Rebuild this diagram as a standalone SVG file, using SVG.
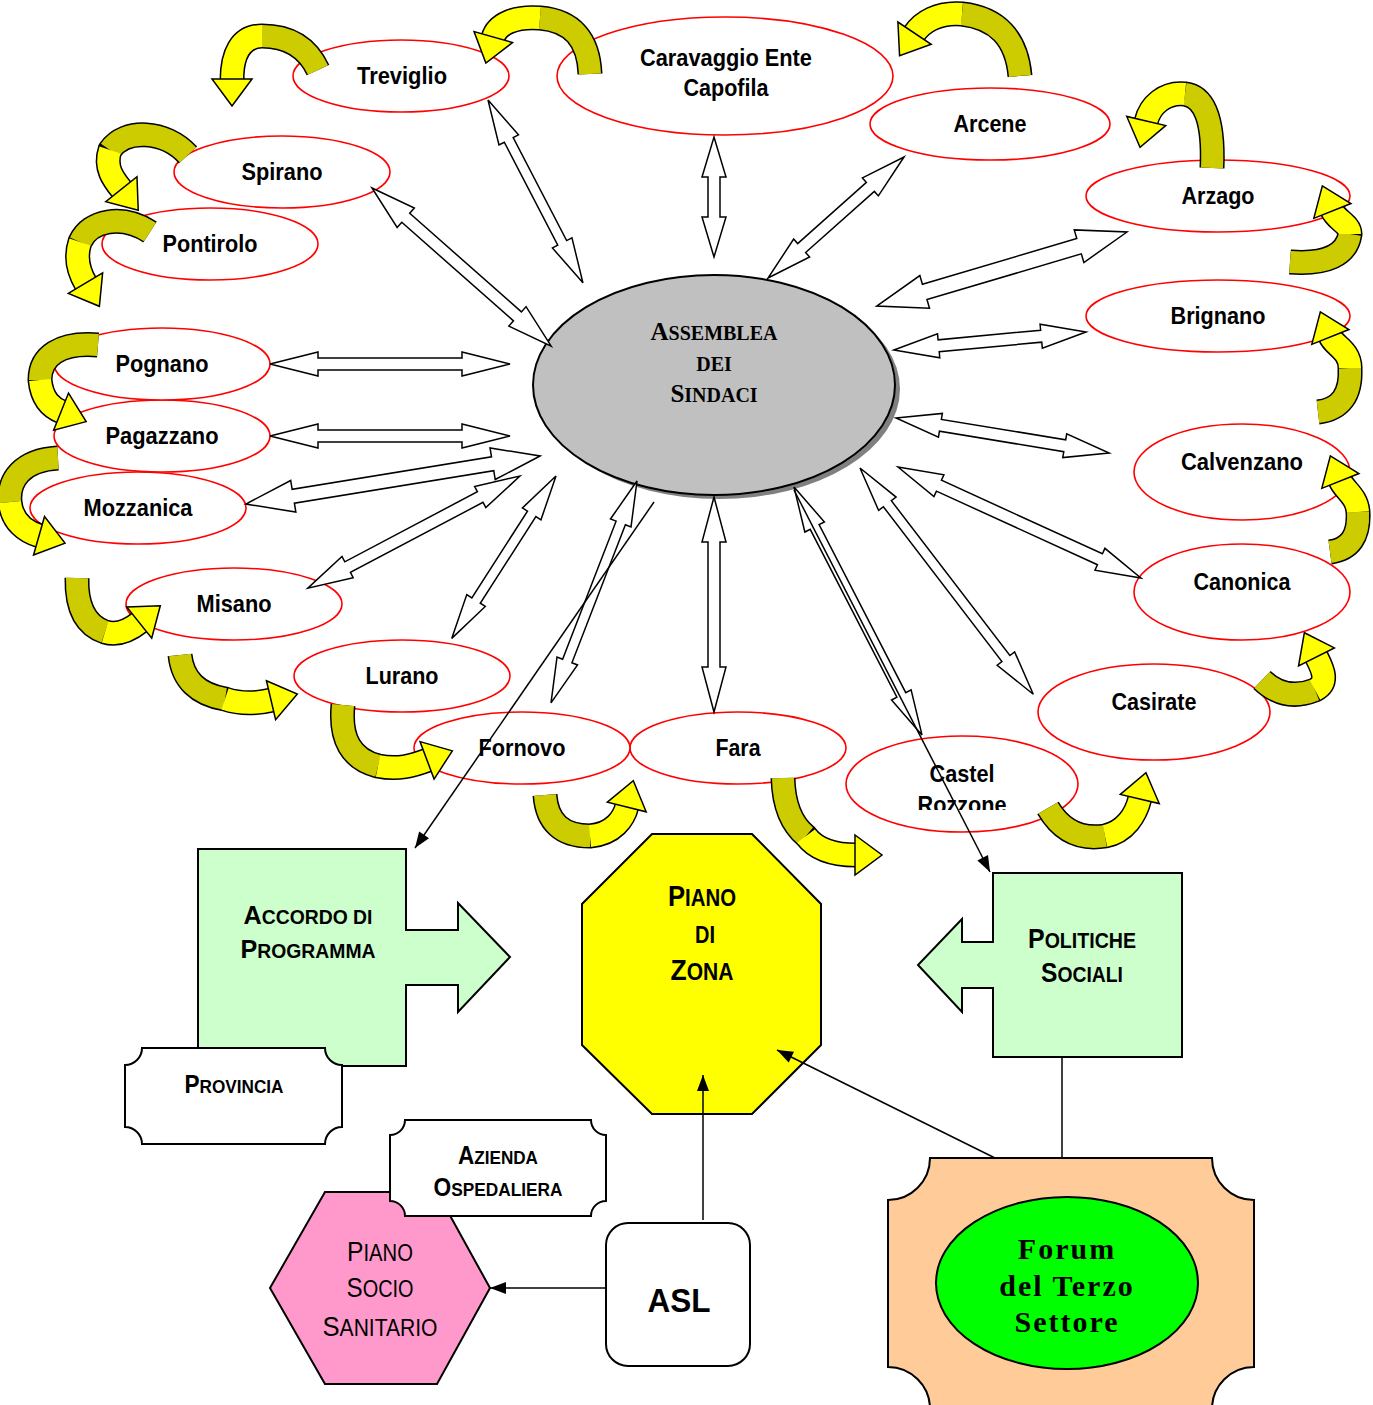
<svg xmlns="http://www.w3.org/2000/svg" width="1373" height="1405" viewBox="0 0 1373 1405">
<style>
.town ellipse{fill:#fff;stroke:#f00;stroke-width:1.6}
.tl{font-family:"Liberation Sans Narrow","Arial Narrow","Liberation Sans",sans-serif;font-weight:bold;font-size:24px;text-anchor:middle;fill:#000}
.sc{font-family:"Liberation Sans Narrow","Arial Narrow","Liberation Sans",sans-serif;font-weight:bold;text-anchor:middle;fill:#000}
.scr{font-family:"Liberation Sans Narrow","Arial Narrow","Liberation Sans",sans-serif;text-anchor:middle;fill:#000}
.ser{font-family:"Liberation Serif","Times New Roman",serif;font-weight:bold;text-anchor:middle;fill:#000}
.blk path{fill:#fff;stroke:#000;stroke-width:1.5;stroke-linejoin:miter}
.thin{fill:none;stroke:#000;stroke-width:1.5;marker-end:url(#ah)}
.plain{fill:none;stroke:#000;stroke-width:1.5}
.curl .o{fill:none;stroke:#000;stroke-width:25}
.curl .ol{fill:none;stroke:#CCCC00;stroke-width:22}
.curl .ye{fill:none;stroke:#FFFF00;stroke-width:22;marker-end:url(#yh)}
.shape{stroke:#000;stroke-width:2}
</style>
<defs>
<marker id="ah" markerUnits="userSpaceOnUse" markerWidth="20" markerHeight="20" refX="0" refY="0" orient="auto" overflow="visible">
<path d="M-16,-6 L0,0 L-16,6 Z" fill="#000"/>
</marker>
<marker id="yh" markerUnits="userSpaceOnUse" markerWidth="40" markerHeight="50" refX="0" refY="0" orient="auto" overflow="visible">
<path d="M-1,-20 L26,0 L-1,20 Z" fill="#FFFF00" stroke="#000" stroke-width="1.5"/>
</marker>
<clipPath id="clipRoz"><rect x="840" y="730" width="250" height="80"/></clipPath>
</defs>

<!-- town nodes -->
<g id="n-treviglio" class="town"><ellipse cx="401" cy="76" rx="108" ry="36"/><text class="tl" x="402" y="84" textLength="90" lengthAdjust="spacingAndGlyphs">Treviglio</text></g>
<g id="n-caravaggio" class="town"><ellipse cx="725" cy="76" rx="168" ry="59"/><text class="tl" x="726" y="66" textLength="172" lengthAdjust="spacingAndGlyphs">Caravaggio Ente</text><text class="tl" x="726" y="96" textLength="85" lengthAdjust="spacingAndGlyphs">Capofila</text></g>
<g id="n-arcene" class="town"><ellipse cx="990" cy="124" rx="120" ry="36"/><text class="tl" x="990" y="132" textLength="73" lengthAdjust="spacingAndGlyphs">Arcene</text></g>
<g id="n-arzago" class="town"><ellipse cx="1218" cy="196" rx="132" ry="36"/><text class="tl" x="1218" y="204" textLength="73" lengthAdjust="spacingAndGlyphs">Arzago</text></g>
<g id="n-brignano" class="town"><ellipse cx="1218" cy="316" rx="132" ry="36"/><text class="tl" x="1218" y="324" textLength="95" lengthAdjust="spacingAndGlyphs">Brignano</text></g>
<g id="n-calvenzano" class="town"><ellipse cx="1242" cy="472" rx="108" ry="48"/><text class="tl" x="1242" y="470" textLength="122" lengthAdjust="spacingAndGlyphs">Calvenzano</text></g>
<g id="n-canonica" class="town"><ellipse cx="1242" cy="592" rx="108" ry="48"/><text class="tl" x="1242" y="590" textLength="97" lengthAdjust="spacingAndGlyphs">Canonica</text></g>
<g id="n-casirate" class="town"><ellipse cx="1154" cy="712" rx="116" ry="48"/><text class="tl" x="1154" y="710" textLength="85" lengthAdjust="spacingAndGlyphs">Casirate</text></g>
<g id="n-castel" class="town"><ellipse cx="962" cy="784" rx="116" ry="48"/><text class="tl" x="962" y="782" textLength="65" lengthAdjust="spacingAndGlyphs">Castel</text><text class="tl" x="962" y="813" textLength="89" lengthAdjust="spacingAndGlyphs" clip-path="url(#clipRoz)">Rozzone</text></g>
<g id="n-fara" class="town"><ellipse cx="738" cy="748" rx="108" ry="36"/><text class="tl" x="738" y="756" textLength="45" lengthAdjust="spacingAndGlyphs">Fara</text></g>
<g id="n-fornovo" class="town"><ellipse cx="522" cy="748" rx="108" ry="36"/><text class="tl" x="522" y="756" textLength="87" lengthAdjust="spacingAndGlyphs">Fornovo</text></g>
<g id="n-lurano" class="town"><ellipse cx="402" cy="676" rx="108" ry="36"/><text class="tl" x="402" y="684" textLength="73" lengthAdjust="spacingAndGlyphs">Lurano</text></g>
<g id="n-misano" class="town"><ellipse cx="234" cy="604" rx="108" ry="36"/><text class="tl" x="234" y="612" textLength="75" lengthAdjust="spacingAndGlyphs">Misano</text></g>
<g id="n-mozzanica" class="town"><ellipse cx="138" cy="508" rx="108" ry="36"/><text class="tl" x="138" y="516" textLength="109" lengthAdjust="spacingAndGlyphs">Mozzanica</text></g>
<g id="n-pagazzano" class="town"><ellipse cx="162" cy="436" rx="108" ry="36"/><text class="tl" x="162" y="444" textLength="113" lengthAdjust="spacingAndGlyphs">Pagazzano</text></g>
<g id="n-pognano" class="town"><ellipse cx="162" cy="364" rx="108" ry="36"/><text class="tl" x="162" y="372" textLength="93" lengthAdjust="spacingAndGlyphs">Pognano</text></g>
<g id="n-pontirolo" class="town"><ellipse cx="210" cy="244" rx="108" ry="36"/><text class="tl" x="210" y="252" textLength="95" lengthAdjust="spacingAndGlyphs">Pontirolo</text></g>
<g id="n-spirano" class="town"><ellipse cx="282" cy="172" rx="108" ry="36"/><text class="tl" x="282" y="180" textLength="81" lengthAdjust="spacingAndGlyphs">Spirano</text></g>

<!-- central node -->
<g id="n-assemblea">
<ellipse cx="719" cy="389" rx="181" ry="110" fill="#808080"/>
<ellipse cx="714" cy="385" rx="181" ry="110" fill="#C0C0C0" stroke="#000" stroke-width="2"/>
<text class="ser" x="714" y="340"><tspan font-size="25">A</tspan><tspan font-size="20">SSEMBLEA</tspan></text>
<text class="ser" x="714" y="371" font-size="20">DEI</text>
<text class="ser" x="714" y="402"><tspan font-size="25">S</tspan><tspan font-size="20">INDACI</tspan></text>
</g>

<!-- lower nodes -->
<g id="n-accordo">
<path class="shape" fill="#CCFFCC" d="M198,849 L406,849 L406,930 L458,930 L458,903 L510,957 L458,1012 L458,985 L406,985 L406,1066 L198,1066 Z"/>
<text class="sc" x="308" y="924" textLength="129" lengthAdjust="spacingAndGlyphs"><tspan font-size="26">A</tspan><tspan font-size="20">CCORDO DI</tspan></text>
<text class="sc" x="308" y="958" textLength="135" lengthAdjust="spacingAndGlyphs"><tspan font-size="26">P</tspan><tspan font-size="20">ROGRAMMA</tspan></text>
</g>
<g id="n-provincia">
<path class="shape" fill="#fff" d="M142,1048 L325,1048 A17,17 0 0 0 342,1065 L342,1127 A17,17 0 0 0 325,1144 L142,1144 A17,17 0 0 0 125,1127 L125,1065 A17,17 0 0 0 142,1048 Z"/>
<text class="sc" x="234" y="1093" textLength="99" lengthAdjust="spacingAndGlyphs"><tspan font-size="25">P</tspan><tspan font-size="19">ROVINCIA</tspan></text>
</g>
<g id="n-pianozona">
<path class="shape" fill="#FFFF00" d="M652,834 L752,834 L821,904 L821,1045 L752,1114 L652,1114 L582,1045 L582,904 Z"/>
<text class="sc" x="702" y="906" textLength="68" lengthAdjust="spacingAndGlyphs"><tspan font-size="29">P</tspan><tspan font-size="23">IANO</tspan></text>
<text class="sc" x="705" y="943" font-size="23" textLength="20" lengthAdjust="spacingAndGlyphs">DI</text>
<text class="sc" x="702" y="980" textLength="63" lengthAdjust="spacingAndGlyphs"><tspan font-size="29">Z</tspan><tspan font-size="23">ONA</tspan></text>
</g>
<g id="n-politiche">
<path class="shape" fill="#CCFFCC" d="M993,873 L1182,873 L1182,1057 L993,1057 L993,988 L962,988 L962,1012 L918,965 L962,919 L962,942 L993,942 Z"/>
<text class="sc" x="1082" y="948" textLength="108" lengthAdjust="spacingAndGlyphs"><tspan font-size="28">P</tspan><tspan font-size="22">OLITICHE</tspan></text>
<text class="sc" x="1082" y="982" textLength="82" lengthAdjust="spacingAndGlyphs"><tspan font-size="28">S</tspan><tspan font-size="22">OCIALI</tspan></text>
</g>
<g id="n-pianosocio">
<path class="shape" fill="#FF99CC" d="M270,1288 L325,1192 L437,1192 L490,1288 L437,1384 L325,1384 Z"/>
<text class="scr" x="380" y="1261" textLength="66" lengthAdjust="spacingAndGlyphs"><tspan font-size="28">P</tspan><tspan font-size="23">IANO</tspan></text>
<text class="scr" x="380" y="1297" textLength="67" lengthAdjust="spacingAndGlyphs"><tspan font-size="28">S</tspan><tspan font-size="23">OCIO</tspan></text>
<text class="scr" x="380" y="1336" textLength="115" lengthAdjust="spacingAndGlyphs"><tspan font-size="28">S</tspan><tspan font-size="23">ANITARIO</tspan></text>
</g>
<g id="n-azienda">
<path class="shape" fill="#fff" d="M405,1120 L591,1120 A15,15 0 0 0 606,1135 L606,1201 A15,15 0 0 0 591,1216 L405,1216 A15,15 0 0 0 390,1201 L390,1135 A15,15 0 0 0 405,1120 Z"/>
<text class="sc" x="498" y="1164" textLength="80" lengthAdjust="spacingAndGlyphs"><tspan font-size="25">A</tspan><tspan font-size="19">ZIENDA</tspan></text>
<text class="sc" x="498" y="1196" textLength="129" lengthAdjust="spacingAndGlyphs"><tspan font-size="25">O</tspan><tspan font-size="19">SPEDALIERA</tspan></text>
</g>
<g id="n-asl">
<rect class="shape" x="606" y="1223" width="144" height="143" rx="22" ry="22" fill="#fff"/>
<text x="679" y="1312" font-family="'Liberation Sans',Arial,sans-serif" font-weight="bold" font-size="34" text-anchor="middle" textLength="63" lengthAdjust="spacingAndGlyphs">ASL</text>
</g>
<g id="n-forum">
<path class="shape" fill="#FFCC99" d="M930,1158 L1212,1158 A42,42 0 0 0 1254,1200 L1254,1367 A42,42 0 0 0 1212,1409 L930,1409 A42,42 0 0 0 888,1367 L888,1200 A42,42 0 0 0 930,1158 Z"/>
<ellipse cx="1067" cy="1283" rx="131" ry="86" fill="#00FF00" stroke="#000" stroke-width="2"/>
<text class="ser" x="1067" y="1259" font-size="30" letter-spacing="2">Forum</text>
<text class="ser" x="1067" y="1296" font-size="30" letter-spacing="2">del Terzo</text>
<text class="ser" x="1067" y="1332" font-size="30" letter-spacing="2">Settore</text>
</g>

<!-- connectors -->
<g id="connectors">
<g class="blk">
<path transform="translate(488,100) rotate(62.56)" d="M0,0 L45,-11 L45,-5 L161,-5 L161,-11 L206,0 L161,11 L161,5 L45,5 L45,11 Z"/>
<path transform="translate(372,188) rotate(41.43)" d="M0,0 L45,-13 L45,-6 L194,-6 L194,-13 L239,0 L194,13 L194,6 L45,6 L45,13 Z"/>
<path transform="translate(714,137) rotate(90)" d="M0,0 L40,-12 L40,-6 L80,-6 L80,-12 L120,0 L80,12 L80,6 L40,6 L40,12 Z"/>
<path transform="translate(904,157) rotate(138.34)" d="M0,0 L45,-12 L45,-6 L137,-6 L137,-12 L182,0 L137,12 L137,6 L45,6 L45,12 Z"/>
<path transform="translate(1127,232) rotate(163.51)" d="M0,0 L50,-17 L50,-8 L211,-8 L211,-17 L261,0 L211,17 L211,8 L50,8 L50,17 Z"/>
<path transform="translate(1086,332) rotate(174.64)" d="M0,0 L45,-12 L45,-6 L148,-6 L148,-12 L193,0 L148,12 L148,6 L45,6 L45,12 Z"/>
<path transform="translate(896,418) rotate(9.33)" d="M0,0 L45,-12 L45,-6 L171,-6 L171,-12 L216,0 L171,12 L171,6 L45,6 L45,12 Z"/>
<path transform="translate(898,467) rotate(24.55)" d="M0,0 L45,-12 L45,-6 L222,-6 L222,-12 L267,0 L222,12 L222,6 L45,6 L45,12 Z"/>
<path transform="translate(860,468) rotate(52.56)" d="M0,0 L45,-11 L45,-5 L240,-5 L240,-11 L285,0 L240,11 L240,5 L45,5 L45,11 Z"/>
<path transform="translate(794,487) rotate(62.70)" d="M0,0 L45,-11 L45,-5 L234,-5 L234,-11 L279,0 L234,11 L234,5 L45,5 L45,11 Z"/>
<path transform="translate(714,497) rotate(90)" d="M0,0 L45,-12 L45,-6 L170,-6 L170,-12 L215,0 L170,12 L170,6 L45,6 L45,12 Z"/>
<path transform="translate(637,481) rotate(111.18)" d="M0,0 L45,-11 L45,-5 L193,-5 L193,-11 L238,0 L193,11 L193,5 L45,5 L45,11 Z"/>
<path transform="translate(556,476) rotate(122.70)" d="M0,0 L45,-11 L45,-5 L148,-5 L148,-11 L193,0 L148,11 L148,5 L45,5 L45,11 Z"/>
<path transform="translate(520,476) rotate(152.15)" d="M0,0 L45,-12 L45,-6 L195,-6 L195,-12 L240,0 L195,12 L195,6 L45,6 L45,12 Z"/>
<path transform="translate(540,456) rotate(170.73)" d="M0,0 L48,-16 L48,-7 L250,-7 L250,-16 L298,0 L250,16 L250,7 L48,7 L48,16 Z"/>
<path transform="translate(270,436)" d="M0,0 L48,-12 L48,-6 L192,-6 L192,-12 L240,0 L192,12 L192,6 L48,6 L48,12 Z"/>
<path transform="translate(270,364)" d="M0,0 L48,-12 L48,-6 L192,-6 L192,-12 L240,0 L192,12 L192,6 L48,6 L48,12 Z"/>
</g>
<line class="thin" x1="654" y1="502" x2="415" y2="848"/>
<line class="thin" x1="794" y1="490" x2="990" y2="872"/>
<line class="thin" x1="703" y1="1220" x2="703" y2="1075"/>
<line class="thin" x1="995" y1="1158" x2="777" y2="1050"/>
<line class="thin" x1="606" y1="1288" x2="490" y2="1288"/>
<line class="plain" x1="1062" y1="1057" x2="1062" y2="1158"/>

<g class="curl"><path class="o" d="M318,70 Q302,36 262,36 C240,36 232,55 232,80"/><path class="ol" d="M318,70 Q302,36 262,36"/><path class="ye" d="M262,36 C240,36 232,55 232,80"/></g>
<g class="curl"><path class="o" d="M590,74 Q588,22 540,18 C515,16 497,24 493,38"/><path class="ol" d="M590,74 Q588,22 540,18"/><path class="ye" d="M540,18 C515,16 497,24 493,38"/></g>
<g class="curl"><path class="o" d="M1020,76 Q1015,20 962,14 C938,12 922,22 914,34"/><path class="ol" d="M1020,76 Q1015,20 962,14"/><path class="ye" d="M962,14 C938,12 922,22 914,34"/></g>
<g class="curl"><path class="o" d="M1212,168 Q1215,98 1185,94 C1165,92 1150,105 1146,122"/><path class="ol" d="M1212,168 Q1215,98 1185,94"/><path class="ye" d="M1185,94 C1165,92 1150,105 1146,122"/></g>
<g class="curl"><path class="o" d="M1290,262 Q1345,266 1350,234 C1350,224 1336,220 1332,210"/><path class="ol" d="M1290,262 Q1345,266 1350,234"/><path class="ye" d="M1350,234 C1350,224 1336,220 1332,210"/></g>
<g class="curl"><path class="o" d="M1318,412 Q1352,408 1350,368 C1350,350 1334,346 1330,336"/><path class="ol" d="M1318,412 Q1352,408 1350,368"/><path class="ye" d="M1350,368 C1350,350 1334,346 1330,336"/></g>
<g class="curl"><path class="o" d="M1330,552 Q1360,548 1358,512 C1357,496 1344,490 1340,480"/><path class="ol" d="M1330,552 Q1360,548 1358,512"/><path class="ye" d="M1358,512 C1357,496 1344,490 1340,480"/></g>
<g class="curl"><path class="o" d="M1262,680 Q1285,702 1315,690 C1330,682 1322,668 1316,656"/><path class="ol" d="M1262,680 Q1285,702 1315,690"/><path class="ye" d="M1315,690 C1330,682 1322,668 1316,656"/></g>
<g class="curl"><path class="o" d="M1048,808 Q1068,842 1105,836 C1125,832 1136,815 1140,798"/><path class="ol" d="M1048,808 Q1068,842 1105,836"/><path class="ye" d="M1105,836 C1125,832 1136,815 1140,798"/></g>
<g class="curl"><path class="o" d="M783,778 Q784,818 806,836 C818,852 838,855 856,855"/><path class="ol" d="M783,778 Q784,818 806,836"/><path class="ye" d="M806,836 C818,852 838,855 856,855"/></g>
<g class="curl"><path class="o" d="M545,795 Q548,836 590,836 C614,834 624,818 627,806"/><path class="ol" d="M545,795 Q548,836 590,836"/><path class="ye" d="M590,836 C614,834 624,818 627,806"/></g>
<g class="curl"><path class="o" d="M343,705 Q338,756 378,766 C398,770 412,766 428,760"/><path class="ol" d="M343,705 Q338,756 378,766"/><path class="ye" d="M378,766 C398,770 412,766 428,760"/></g>
<g class="curl"><path class="o" d="M180,655 Q184,692 225,699 C240,704 255,704 272,700"/><path class="ol" d="M180,655 Q184,692 225,699"/><path class="ye" d="M225,699 C240,704 255,704 272,700"/></g>
<g class="curl"><path class="o" d="M77,578 Q76,622 105,632 C118,636 130,630 140,622"/><path class="ol" d="M77,578 Q76,622 105,632"/><path class="ye" d="M105,632 C118,636 130,630 140,622"/></g>
<g class="curl"><path class="o" d="M58,458 C22,460 8,480 10,502 C12,522 26,532 40,536"/><path class="ol" d="M58,458 C22,460 8,480 10,502"/><path class="ye" d="M10,502 C12,522 26,532 40,536"/></g>
<g class="curl"><path class="o" d="M98,345 C60,342 40,356 40,380 C42,400 52,408 62,412"/><path class="ol" d="M98,345 C60,342 40,356 40,380"/><path class="ye" d="M40,380 C42,400 52,408 62,412"/></g>
<g class="curl"><path class="o" d="M188,155 C165,130 125,128 110,150 C104,168 114,180 122,190"/><path class="ol" d="M188,155 C165,130 125,128 110,150"/><path class="ye" d="M110,150 C104,168 114,180 122,190"/></g>
<g class="curl"><path class="o" d="M150,232 C122,214 90,220 80,242 C74,260 80,274 86,284"/><path class="ol" d="M150,232 C122,214 90,220 80,242"/><path class="ye" d="M80,242 C74,260 80,274 86,284"/></g>
</g>
</svg>
